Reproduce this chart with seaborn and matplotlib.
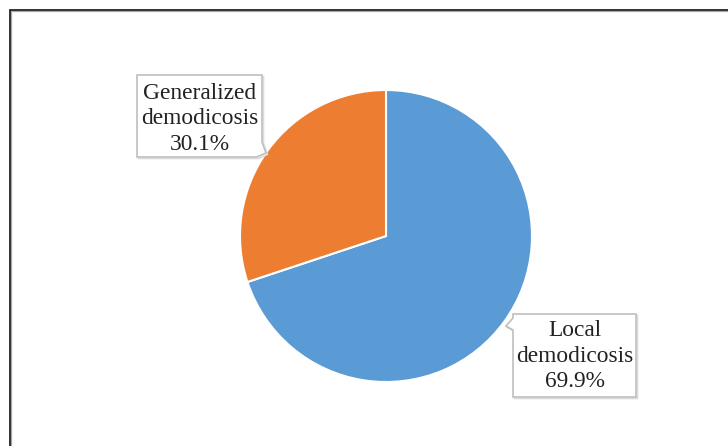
import matplotlib
matplotlib.use("Agg")
import matplotlib.pyplot as plt
from matplotlib.patches import Polygon, Rectangle
import numpy as np
import seaborn as sns

labels = ["Local\ndemodicosis", "Generalized\ndemodicosis"]
shares = [69.9, 30.1]
colors = ["#5B9BD5", "#ED7D31"]

sns.set_theme(style="white")
plt.rcParams["font.family"] = ["Liberation Serif", "DejaVu Serif"]

W, H = 728, 446
fig = plt.figure(figsize=(W / 100, H / 100), dpi=100)
ax = fig.add_axes([0, 0, 1, 1])
# pie centred at (386, 236) px from the top-left corner, radius 146 px
cx, cy, R = 386, 236, 146

wedges, _ = ax.pie(shares, colors=colors, startangle=90, counterclock=False,
                   radius=R, wedgeprops=dict(edgecolor="white", linewidth=1.5))

# axes in pixel-like units (set after pie, which resets the limits)
ax.set_xlim(-cx, W - cx)
ax.set_ylim(-(H - cy), cy)
ax.set_aspect("equal")
ax.axis("off")


def to_data(px, py):
    return px - cx, cy - py


def draw_callout(text, box, text_y, tip_angle, tip_r, base, side):
    x0, y0, x1, y1 = box
    X0, Y0 = to_data(x0, y0)
    X1, Y1 = to_data(x1, y1)
    a = np.deg2rad(tip_angle)
    tip = (tip_r * np.cos(a), tip_r * np.sin(a))
    b1 = to_data(*base[0])
    b2 = to_data(*base[1])
    if side == "right-bottom":
        pts = [(X0, Y0), (X1, Y0), b1, tip, b2, (X0, Y1)]
    else:  # pointer on the left edge
        pts = [b1, (X0, Y0), (X1, Y0), (X1, Y1), (X0, Y1), b2, tip]
    sh = [(x + 1.5, y - 1.5) for x, y in pts]
    ax.add_patch(Polygon(sh, closed=True, facecolor="none", edgecolor="#dcdcdc",
                         linewidth=1.2, zorder=4))
    ax.add_patch(Polygon(pts, closed=True, facecolor="white", edgecolor="#bfbfbf",
                         linewidth=1.2, zorder=5))
    ax.text((X0 + X1) / 2, cy - text_y, text, ha="center", va="center",
            fontsize=16.8, color="#222222", linespacing=1.3, zorder=6)


# Generalized demodicosis label (upper left)
draw_callout(f"{labels[1]}\n{shares[1]}%", (137, 75, 262, 157), 119, 145.3, R,
             [(262, 142), (257, 157)], "right-bottom")

# Local demodicosis label (lower right)
draw_callout(f"{labels[0]}\n{shares[0]}%", (513, 314, 636, 397), 356, -36.9, 150,
             [(513, 318), (513, 330)], "left")

# outer frame (left and top edges visible)
ft = fig.transFigure
fig.patches.append(Rectangle((11.2 / W, -0.1), 1.2, (H - 11.2) / H + 0.1, transform=ft,
                             fill=False, edgecolor="#a8a8a8", linewidth=0.9, zorder=10))
fig.patches.append(Rectangle((10 / W, -0.1), 1.2, (H - 10) / H + 0.1, transform=ft,
                             fill=False, edgecolor="#111111", linewidth=1.2, zorder=11))

fig.savefig("out.png", dpi=100)
